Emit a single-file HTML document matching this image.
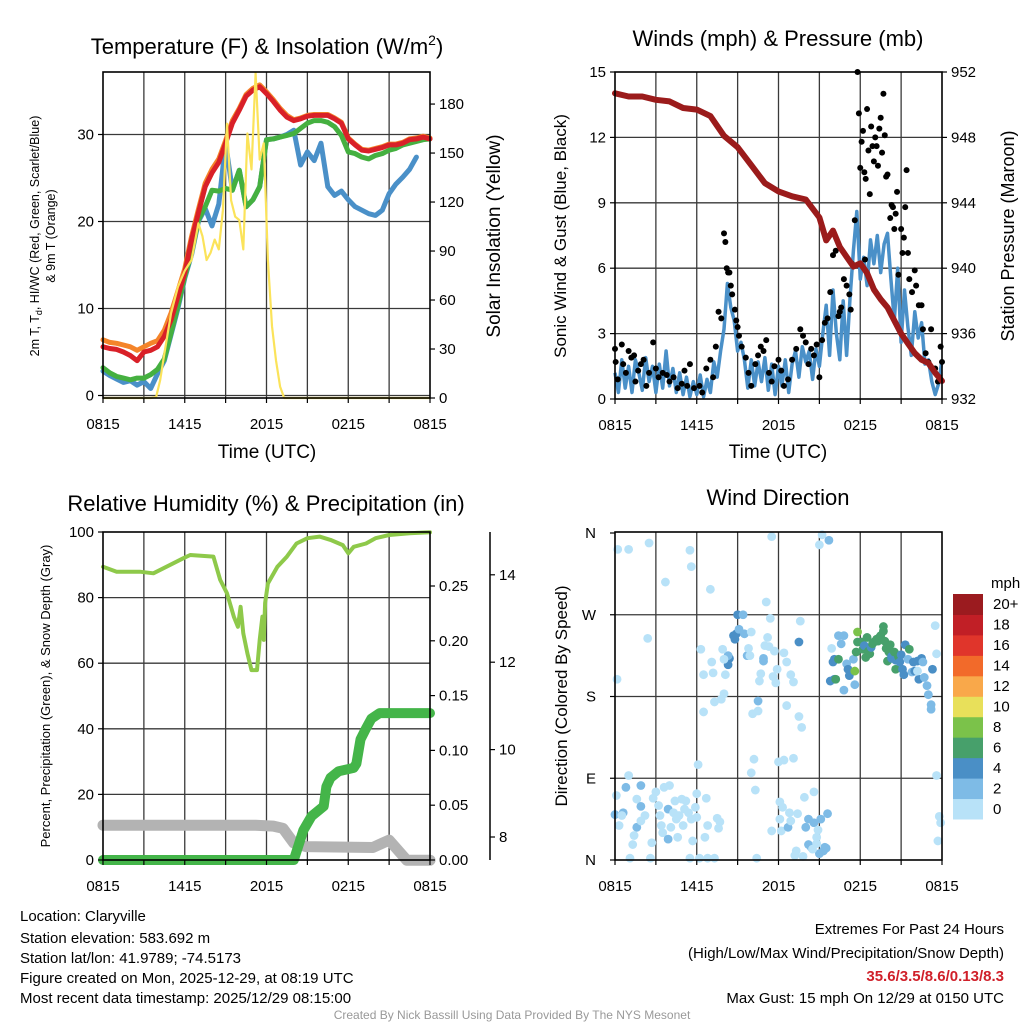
<!DOCTYPE html>
<html><head><meta charset="utf-8">
<style>
html,body{margin:0;padding:0;background:#fff;}
svg{display:block;font-family:"Liberation Sans",Arial,sans-serif;}
</style></head>
<body>
<svg id="chart" width="1024" height="1024" viewBox="0 0 1024 1024" xmlns="http://www.w3.org/2000/svg">
<rect x="0" y="0" width="1024" height="1024" fill="#fff"/>
<g id="grids"></g>
<g id="marks"></g>
<g id="frames"></g>
<g id="labels" font-size="15" fill="#000"></g>

<text x="267" y="54" font-size="22" text-anchor="middle">Temperature (F) &amp; Insolation (W/m<tspan dy="-9" font-size="14">2</tspan><tspan dy="9">)</tspan></text>
<text x="778" y="46" font-size="22" text-anchor="middle">Winds (mph) &amp; Pressure (mb)</text>
<text x="266" y="511" font-size="22" text-anchor="middle">Relative Humidity (%) &amp; Precipitation (in)</text>
<text x="778" y="505" font-size="22" text-anchor="middle">Wind Direction</text>

<text x="267" y="458" font-size="19" text-anchor="middle">Time (UTC)</text>
<text x="778" y="458" font-size="19" text-anchor="middle">Time (UTC)</text>

<text transform="translate(39,236) rotate(-90)" font-size="12.5" text-anchor="middle">2m T, T<tspan font-size="9" dy="3">d</tspan><tspan dy="-3">, HI/WC (Red, Green, Scarlet/Blue)</tspan></text>
<text transform="translate(55,236) rotate(-90)" font-size="12.5" text-anchor="middle">&amp; 9m T (Orange)</text>
<text transform="translate(500,236) rotate(-90)" font-size="19" text-anchor="middle">Solar Insolation (Yellow)</text>
<text transform="translate(566,236) rotate(-90)" font-size="17" text-anchor="middle">Sonic Wind &amp; Gust (Blue, Black)</text>
<text transform="translate(1014,236) rotate(-90)" font-size="18" text-anchor="middle">Station Pressure (Maroon)</text>
<text transform="translate(50,696) rotate(-90)" font-size="13" text-anchor="middle">Percent, Precipitation (Green), &amp; Snow Depth (Gray)</text>
<text transform="translate(567,696) rotate(-90)" font-size="17" text-anchor="middle">Direction (Colored By Speed)</text>

<g id="colorbar"></g>
<text x="991" y="588" font-size="15">mph</text>

<g font-size="15">
<text x="20" y="921">Location: Claryville</text>
<text x="20" y="943">Station elevation: 583.692 m</text>
<text x="20" y="963">Station lat/lon: 41.9789; -74.5173</text>
<text x="20" y="983">Figure created on Mon, 2025-12-29, at 08:19 UTC</text>
<text x="20" y="1003">Most recent data timestamp: 2025/12/29 08:15:00</text>
</g>
<g font-size="15" text-anchor="end">
<text x="1004" y="934">Extremes For Past 24 Hours</text>
<text x="1004" y="958">(High/Low/Max Wind/Precipitation/Snow Depth)</text>
<text x="1004" y="981" fill="#d0202a" font-weight="bold">35.6/3.5/8.6/0.13/8.3</text>
<text x="1004" y="1003">Max Gust: 15 mph On 12/29 at 0150 UTC</text>
</g>
<text x="512" y="1019" font-size="12" fill="#999" text-anchor="middle">Created By Nick Bassill Using Data Provided By The NYS Mesonet</text>
</svg>

<script>
// ---------- DATA ----------
const tHalf = [0,0.5,1,1.5,2,2.5,3,3.5,4,4.5,5,5.5,6,6.5,7,7.5,8,8.5,9,9.5,10,10.5,11,11.5,12,12.5,13,13.5,14,14.5,15,15.5,16,16.5,17,17.5,18,18.5,19,19.5,20,20.5,21,21.5,22,22.5,23,23.5,24];
const tempRed = [5.6,5.4,5.3,5.0,4.6,4.0,5.0,5.2,5.6,6.8,8.7,11.4,14.1,17.9,21,24,25.6,26.8,29,31.3,32.8,34.4,35.1,35.5,34.7,33.8,32.8,32,31.6,31.8,32.1,32.2,32.2,32.2,31.8,31.3,29.5,28.8,28.2,28.1,28.3,28.5,28.8,28.8,29,29.4,29.5,29.7,29.5];
const tempOrange = [6.4,6.1,6.0,5.8,5.6,5.2,5.6,6.0,6.3,7.5,9.5,12,14.6,18.3,21.4,24.4,26,27.2,29.3,31.6,33,34.6,35.3,35.7,34.9,34,33,32.2,31.7,31.9,32.2,32.3,32.3,32.3,31.9,31.4,29.6,28.9,28.3,28.2,28.4,28.6,28.9,28.9,29.1,29.5,29.6,29.8,29.6];
const tempGreen = [3.2,2.6,2.2,2.0,1.8,2.0,2.0,2.4,3.0,4.2,7.2,10.3,13.7,16.4,20.2,21.7,23.6,23.5,23.8,23.6,25.9,21.7,22.5,24,29.4,29.5,29.7,29.9,30.1,30.7,31.3,31.6,31.6,31.4,30.9,29.9,28,27.8,27.4,27.2,27.6,27.8,28.2,28.4,28.8,29,29.2,29.4,29.5];
const tempBlue = [2.8,2.3,1.9,1.5,1.7,1.2,1.6,0.8,2.5,4.0,7.0,10.0,13.5,16.2,20.0,21.5,19.5,22,29,23.6,25.9,21.7,22.5,24,29.4,29.5,29.7,30,30.5,26.5,28,27,29,24,23,23.5,22.5,21.7,21.3,20.9,20.7,21.3,23.2,24.3,25.1,26,27.4,null,null];
const solarT = [0,3.5,3.9,4.2,4.5,5,5.5,6,6.5,7,7.3,7.6,7.9,8.2,8.5,8.8,9.1,9.4,9.7,10,10.3,10.6,10.9,11.2,11.5,11.8,12.1,12.4,12.7,13,13.3,24];
const solarV = [0,0,0.5,11,27,52,68,78,84.5,107,99,84.5,89,97,91,115,168,121,111,109,91,162,140,199,146,156,84.5,44,23,7,0,0];

const presT = [0,1,2,3,4,5,6,7,8,9,10,11,12,13,14,15,15.5,16,16.5,17,17.5,18,18.5,19,19.5,20,20.5,21,21.5,22,22.5,23,23.5,24];
const presV = [950.7,950.5,950.5,950.3,950.2,949.8,949.7,949.3,948.1,947.4,946.3,945.2,944.7,944.4,944.2,943.1,941.7,942.3,941.3,940.7,940.1,940.3,939.7,938.7,938.1,937.6,936.8,936,935.4,934.8,934.4,934.2,933.6,933.1];
const windT = [0,0.25,0.5,0.75,1,1.25,1.5,1.75,2,2.25,2.5,2.75,3,3.25,3.5,3.75,4,4.25,4.5,4.75,5,5.25,5.5,5.75,6,6.25,6.5,6.75,7,7.25,7.5,7.75,8,8.25,8.5,8.75,9,9.25,9.5,9.75,10,10.25,10.5,10.75,11,11.25,11.5,11.75,12,12.25,12.5,12.75,13,13.25,13.5,13.75,14,14.25,14.5,14.75,15,15.25,15.5,15.75,16,16.25,16.5,16.75,17,17.25,17.5,17.75,18,18.25,18.5,18.75,19,19.25,19.5,19.75,20,20.25,20.5,20.75,21,21.25,21.5,21.75,22,22.25,22.5,22.75,23,23.25,23.5,23.75,24];
const windV = [1.2,0.3,1.8,0.5,1.5,0.3,1.8,1.2,0.4,1.9,0.8,1.5,0.3,1.6,0.5,2.2,0.6,1.4,0.3,1.2,0.2,1.0,0.1,0.8,0.2,1.1,0.1,0.9,0.3,1.7,1.0,2.2,3.2,5.3,4.2,3.6,2.2,2.6,1.8,0.5,1.8,0.6,1.7,0.8,1.9,0.4,1.6,0.2,1.5,0.6,1.8,0.3,1.6,2.2,1.0,2.4,1.7,2.2,0.9,2.3,1.5,3.0,4.3,2.0,5.0,3.0,1.8,4.5,2.0,4.6,6.8,8.6,5.5,6.5,5.2,7.3,6.2,7.5,5.8,7.1,7.6,5.5,3.6,6.0,2.6,5.0,3.3,2.0,4.0,2.8,3.5,1.6,1.8,0.8,0.2,0.7,1.8];
const gustT = [0,0.05,0.2,0.5,0.6,0.8,1.0,1.2,1.4,1.5,1.7,1.9,2.1,2.3,2.5,2.8,3.0,3.2,3.5,3.8,4.0,4.3,4.6,4.9,5.1,5.3,5.5,5.8,6.2,6.4,6.7,7.0,7.2,7.4,7.6,7.8,8.0,8.1,8.2,8.3,8.4,8.5,8.6,8.8,8.9,9.0,9.1,9.3,9.6,9.8,10.0,10.3,10.5,10.7,10.9,11.1,11.3,11.5,11.7,12.0,12.2,12.4,12.7,13.0,13.3,13.6,13.8,14.0,14.2,14.4,14.6,14.8,15.0,15.2,15.4,15.6,15.8,16.0,16.2,16.4,16.6,16.8,17.0,17.2,17.4,17.6,17.8,17.9,18.0,18.1,18.2,18.3,18.4,18.5,18.6,18.7,18.8,18.9,19.0,19.1,19.2,19.3,19.4,19.5,19.6,19.7,19.8,19.9,20.0,20.2,20.3,20.4,20.5,20.6,20.7,20.8,21.0,21.1,21.2,21.3,21.4,21.5,21.6,21.8,22.0,22.1,22.3,22.5,22.6,22.8,23.0,23.2,23.5,23.7,23.9,24.0,23.8,17.3,18.35,16.5];
const gustV = [2.3,1.7,0.9,2.5,1.6,1.2,2.2,1.9,2.0,0.8,1.3,1.6,1.8,0.6,1.2,2.6,1.4,1.0,1.2,1.1,0.8,1.0,0.5,0.7,1.3,0.6,1.6,0.5,0.6,0.3,1.4,1.8,1.0,2.4,4.0,3.7,7.6,7.2,6.0,5.8,5.8,5.2,4.8,4.1,3.6,3.3,2.9,2.4,1.9,1.2,0.6,1.6,2.0,2.4,2.2,2.7,1.2,0.8,1.5,1.8,1.3,0.6,0.9,1.8,2.3,3.2,2.9,2.6,1.6,2.3,2.0,2.5,1.0,2.7,3.5,3.7,4.9,6.6,6.8,3.8,4.2,5.5,5.2,4.8,6.2,8.2,15.0,13.1,10.6,11.8,12.3,10.4,10.1,13.3,11.4,9.4,12.5,11.6,10.9,12.0,11.6,10.7,12.4,12.9,11.3,14.0,12.1,10.2,10.3,8.3,8.9,8.8,7.8,8.5,9.5,5.7,7.8,6.7,7.4,8.8,10.5,6.7,5.5,4.9,5.9,5.2,4.3,4.3,3.2,2.1,1.7,3.2,1.4,0.8,2.4,1.7,1.0,4.1,6.4,4.0];

const rhT = [0,1,2.7,3.7,4.9,5.9,6.4,8.1,8.6,9.1,9.6,9.9,10.1,10.3,10.6,10.9,11.3,11.5,11.7,11.8,11.9,12.1,12.8,13.5,14.2,15,15.9,16.7,17.6,18,18.4,19.3,20,21,22.5,24];
const rhV = [89.4,87.9,87.9,87.4,89.9,92,93,92.5,85.4,81.3,74.2,71.1,77.2,69.1,63,57.9,57.9,67.1,74.2,67.1,78.3,84.3,89.4,92.5,96.5,98.1,98.6,97.6,96,93.5,95.5,96.5,98.1,99.1,99.6,99.9];
const precipT = [0,14.0,14.7,15.3,16.2,16.4,16.7,17.3,18.4,18.6,18.9,19.3,19.7,20.3,24];
const precipV = [0,0,0.027,0.04,0.049,0.067,0.075,0.081,0.084,0.088,0.11,0.12,0.129,0.134,0.134];
const snowT = [0,11.2,12.5,13.2,14,14.9,19.8,21,22.3,24];
const snowV = [8.27,8.27,8.25,8.2,7.86,7.78,7.76,7.93,7.47,7.47];

const dirT = [0.2,1.0,2.5,5.5,5.6,3.7,7.0,2.4,0.15,11.5,15.2,15.7,15.0,11.1,11.4,13.6,13.5,8.7,8.8,8.9,9.1,9.5,9.0,9.4,10.0,8.4,8.3,8.3,7.9,8.0,7.1,6.3,6.5,7.2,8.1,9.7,9.8,9.9,10.9,10.9,11.2,11.0,11.3,11.7,12.4,12.6,11.9,10.7,10.6,11.6,11.8,12.9,13.1,8.0,7.8,7.3,6.5,10.5,10.5,10.1,12.6,13.5,13.7,10.2,10.0,12.0,12.4,13.1,6.1,10.3,14.6,
0,0.6,0.5,0.8,1.0,0.1,0.3,1.3,1.6,1.4,1.6,1.9,1.9,1.9,2.2,2.7,2.8,3.0,3.2,3.3,3.4,3.5,3.6,3.9,3.9,4.0,4.1,4.3,4.4,4.5,4.6,4.7,4.9,5.0,5.1,5.2,5.4,5.6,5.7,5.9,6.0,6.0,6.6,6.7,6.8,7.5,7.6,7.7,1.1,2.6,5.5,6.2,6.8,7.3,10.4,
11.5,12.1,12.3,12.1,12.2,12.7,12.8,12.9,13.4,13.3,13.2,13.8,13.9,14.0,14.2,14.2,14.4,14.6,14.8,14.8,14.9,15.0,15.3,15.4,15.5,15.6,15.1,14.5,
16.4,16.6,16.8,15.9,16.1,16.0,15.8,16.1,16.2,16.4,16.8,17.0,17.1,17.2,17.5,17.6,17.6,17.7,17.8,17.8,18.1,18.2,18.3,18.4,18.5,18.6,18.7,18.8,18.9,19.0,19.2,19.3,19.4,19.5,19.7,19.7,19.8,19.9,20.0,20.1,20.2,20.3,20.3,20.5,20.6,20.6,20.8,20.9,21.0,21.1,21.2,21.3,21.5,21.6,21.8,21.9,22.0,22.2,22.3,22.5,22.6,22.7,22.9,23.0,23.2,23.2,23.3,23.5,23.6,23.6,23.8,23.9,23.7,22.2];
const dirD = [342,342,349,341,323,306,298,244,199,356,358,352,347,284,266,263,240,247,243,249,254,249,270,270,251,222,215,225,232,221,218,232,204,206,204,225,233,225,222,219,245,236,235,230,228,218,210,205,197,202,195,204,196,183,177,174,163,175,164,161,170,158,146,111,96,108,110,112,105,77,75,
50,52,49,80,93,71,38,17,36,27,67,59,82,43,49,19,68,75,60,49,38,30,80,56,23,82,36,52,65,45,25,49,67,38,56,65,52,45,21,58,73,47,25,68,38,46,35,42,2,2,2,2,2,2,2,
32,64,58,45,32,36,52,43,51,10,5,4,69,36,45,17,14,41,25,18,33,7,10,14,13,51,45,12,
247,238,247,233,221,218,197,199,199,221,187,216,210,203,221,193,208,229,251,240,240,232,236,223,245,230,227,234,238,240,243,241,245,247,252,257,241,233,219,229,237,222,224,229,210,220,224,218,226,210,204,237,221,232,207,218,208,219,199,222,218,201,192,182,171,166,210,258,227,93,48,41,21,208];
const dirS = [1,1,1,1,1,1,1,1,1,1,1,3,1,1,1,1,5,5,5,5,3,3,5,3,1,5,5,3,1,1,1,1,1,1,1,3,1,1,3,3,1,1,1,1,1,1,1,1,1,1,1,1,1,1,1,1,1,3,1,1,1,1,1,1,1,1,1,1,1,1,1,
3,3,1,3,1,1,1,1,3,1,1,3,3,1,1,1,1,1,1,1,1,1,1,3,3,1,1,1,1,1,1,1,1,1,1,1,1,1,1,1,1,1,1,1,1,1,1,1,1,1,1,1,1,1,1,1,
1,1,1,1,3,1,1,1,1,1,1,1,3,3,3,3,3,1,1,1,3,3,3,3,3,3,1,3,
3,3,1,5,5,5,5,7,7,3,3,5,5,3,3,9,7,9,7,7,7,5,7,7,7,7,5,7,7,7,7,7,7,7,7,7,7,7,7,7,5,5,7,7,5,7,5,5,5,5,5,3,7,3,5,5,5,5,5,3,3,3,3,3,3,5,1,1,1,1,1,1,1,5];

const xTickLabels = ["0815","1415","2015","0215","0815"];
const tempTicks = [0,10,20,30];
const solarTicks = [0,30,60,90,120,150,180];
const windTicks = [0,3,6,9,12,15];
const presTicks = [932,936,940,944,948,952];
const rhTicks = [0,20,40,60,80,100];
const precipTicks = [0,0.05,0.10,0.15,0.20,0.25];
const snowTicks = [8,10,12,14];
const dirTicks = [0,90,180,270,360];
const dirTickLabels = ["N","E","S","W","N"];
const speedBins = ["0","2","4","6","8","10","12","14","16","18","20+"];
const speedColors = ["#b8e2f8","#7ebbe6","#4a8fc6","#47a06b","#7bc24a","#e8e05a","#f9a84a","#f26a2a","#e0352b","#c11f26","#9b1b1f"];

// ---------- SCALES ----------
const NS = "http://www.w3.org/2000/svg";
const TW = 327/24;
const P1 = {x0:103,x1:430,y0:72,y1:398};
const P2 = {x0:615,x1:942,y0:72,y1:399};
const P3 = {x0:103,x1:430,y0:532,y1:860};
const P4 = {x0:615,x1:942,y0:532,y1:860};
const x1s = h => P1.x0 + h*TW;
const x2s = h => P2.x0 + h*TW;
const yTemp = v => 395.5 - v*8.7;
const ySolar = v => 398 - v*1.633;
const yWind = v => 399 - v*21.8;
const yPres = p => 399 - (p-932)*16.35;
const yRH = v => 860 - v*3.28;
const yPrecip = v => 860 - v*1096;
const ySnow = v => 837 - (v-8)*43.7;
const yDir = d => 860 - d*327/360;

function mk(tag, attrs, parent){
  const e = document.createElementNS(NS, tag);
  for (const k in attrs) e.setAttribute(k, attrs[k]);
  parent.appendChild(e);
  return e;
}
const G = document.getElementById('grids');
const M = document.getElementById('marks');
const F = document.getElementById('frames');
const L = document.getElementById('labels');

function linePath(ts, vs, xs, ys){
  let d = "", pen = false;
  for (let i=0;i<ts.length;i++){
    if (vs[i]===null){ pen=false; continue; }
    d += (pen?"L":"M") + xs(ts[i]).toFixed(1) + "," + ys(vs[i]).toFixed(1);
    pen = true;
  }
  return d;
}

// ---------- FRAMES & GRIDS ----------
function panel(P, name, hGrid){
  for (let h=3; h<24; h+=3){
    const gl = mk('line',{x1:P.x0+h*TW,x2:P.x0+h*TW,y1:P.y0,y2:P.y1,stroke:'#3a3a3a','stroke-width':1.3},G);
    
    
  }
  hGrid.forEach(y=>{
    const gl = mk('line',{x1:P.x0,x2:P.x1,y1:y,y2:y,stroke:'#3a3a3a','stroke-width':1.3},G);
    
    
  });
  const fr = mk('rect',{x:P.x0,y:P.y0,width:P.x1-P.x0,height:P.y1-P.y0,fill:'none',stroke:'#000','stroke-width':1.6},F);
  
  
  for (let i=0;i<=8;i++){
    const x = P.x0+i*3*TW;
    const tk = mk('line',{x1:x,x2:x,y1:P.y1,y2:P.y1+5,stroke:'#000','stroke-width':1.2},F);
    
    
  }
  xTickLabels.forEach((lab,i)=>{
    const t = mk('text',{x:P.x0+i*6*TW,y:P.y1+31,'text-anchor':'middle'},L);
    t.textContent = lab;
    
    
  });
}
panel(P1,'temperature',[yTemp(0),yTemp(10),yTemp(20),yTemp(30)]);
panel(P2,'winds',[yWind(3),yWind(6),yWind(9),yWind(12)]);
panel(P3,'humidity',[yRH(20),yRH(40),yRH(60),yRH(80)]);
panel(P4,'direction',[yDir(90),yDir(180),yDir(270)]);

function yAxis(ticks, ys, x, side, fmt, name){
  ticks.forEach(v=>{
    const y = ys(v);
    const tk = mk('line',{x1:x,x2:x+(side==='left'?-5:5),y1:y,y2:y,stroke:'#000','stroke-width':1.2},F);
    
    
    const t = mk('text',{x:x+(side==='left'?-9:9),y:y+5,'text-anchor':side==='left'?'end':'start'},L);
    t.textContent = fmt(v);
    
    
  });
}
yAxis(tempTicks,yTemp,P1.x0,'left',v=>String(v),'temperature-y');
yAxis(solarTicks,ySolar,P1.x1,'right',v=>String(v),'insolation-y');
yAxis(windTicks,yWind,P2.x0,'left',v=>String(v),'wind-y');
yAxis(presTicks,yPres,P2.x1,'right',v=>String(v),'pressure-y');
yAxis(rhTicks,yRH,P3.x0,'left',v=>String(v),'humidity-y');
yAxis(precipTicks,yPrecip,P3.x1,'right',v=>v.toFixed(2),'precip-y');
yAxis(snowTicks,ySnow,490,'right',v=>String(v),'snow-y');
dirTicks.forEach((d,i)=>{
  const y = yDir(d);
  const tk = mk('line',{x1:P4.x0,x2:P4.x0-5,y1:y,y2:y,stroke:'#000','stroke-width':1.2},F);
  
  
  const t = mk('text',{x:P4.x0-19,y:y+5,'text-anchor':'end'},L);
  t.textContent = dirTickLabels[i];
  
  
});
const snowAxis = mk('line',{x1:490,x2:490,y1:P3.y0,y2:P3.y1,stroke:'#000','stroke-width':1.5},F);



// ---------- PANEL 1 ----------
const series1 = [
  [tempBlue,'#4a90c8','wind-chill-line'],
  [tempGreen,'#45b040','dewpoint-line'],
  [tempOrange,'#f4842a','9m-temperature-line'],
  [tempRed,'#d92028','2m-temperature-line']
];
series1.forEach(s=>{
  const p = mk('path',{d:linePath(tHalf,s[0],x1s,yTemp),fill:'none',stroke:s[1],'stroke-width':5,'stroke-linejoin':'round','stroke-linecap':'round'},M);
  
  
});
const sol = mk('path',{d:linePath(solarT,solarV,x1s,ySolar),fill:'none',stroke:'#fbe35a','stroke-width':2.2,'stroke-linejoin':'round'},M);



// ---------- PANEL 2 ----------
const wl = mk('path',{d:linePath(windT,windV,x2s,yWind),fill:'none',stroke:'#4a90c8','stroke-width':3.5,'stroke-linejoin':'round'},M);


gustT.forEach((t,i)=>{
  const c = mk('circle',{cx:x2s(t),cy:yWind(gustV[i]),r:3,fill:'#000'},M);
  
  
});
const pl = mk('path',{d:linePath(presT,presV,x2s,yPres),fill:'none',stroke:'#9b1b1b','stroke-width':6,'stroke-linejoin':'round','stroke-linecap':'round'},M);



// ---------- PANEL 3 ----------
const sn = mk('path',{d:linePath(snowT,snowV,x1s,ySnow),fill:'none',stroke:'#b3b3b3','stroke-width':11,'stroke-linejoin':'round','stroke-linecap':'round'},M);


const pr = mk('path',{d:linePath(precipT,precipV,x1s,yPrecip),fill:'none',stroke:'#44b549','stroke-width':10,'stroke-linejoin':'round','stroke-linecap':'round'},M);


const rh = mk('path',{d:linePath(rhT,rhV,x1s,yRH),fill:'none',stroke:'#8ec94a','stroke-width':4,'stroke-linejoin':'round','stroke-linecap':'round'},M);



// ---------- PANEL 4 ----------
function speedColor(s){ return speedColors[Math.max(0,Math.min(10,Math.floor(s/2)))]; }
dirT.forEach((t,i)=>{
  const c = mk('circle',{cx:x2s(t),cy:yDir(dirD[i]),r:4.4,fill:speedColor(dirS[i])},M);
  
  
});
const CB = document.getElementById('colorbar');
speedBins.forEach((lab,i)=>{
  const h = 225/11;
  const y = 819 - (i+1)*h;
  const r = mk('rect',{x:953,y:y,width:30,height:h+0.5,fill:speedColors[i]},CB);
  
  
  const t = mk('text',{x:993,y:y+h/2+5,'font-size':15},CB);
  t.textContent = lab;
  
  
});
</script>
</body></html>
